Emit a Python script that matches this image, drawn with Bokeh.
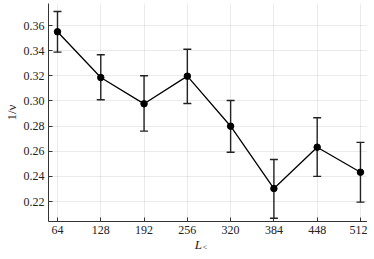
from bokeh.plotting import figure
from bokeh.models import ColumnDataSource, Whisker, Range1d, FixedTicker, CustomJSTickFormatter
from bokeh.layouts import column
from bokeh.core.properties import value
from bokeh.embed import file_html
from bokeh.resources import INLINE

L_vals = [64, 128, 192, 256, 320, 384, 448, 512]
inv_nu = [0.355, 0.3186, 0.2977, 0.3197, 0.2799, 0.2303, 0.2632, 0.2433]
err_lo = [0.3388, 0.3009, 0.2760, 0.2980, 0.2592, 0.2067, 0.2400, 0.2195]
err_hi = [0.3711, 0.3367, 0.3200, 0.3411, 0.3003, 0.2534, 0.2866, 0.2670]
x_ticks = [64, 128, 192, 256, 320, 384, 448, 512]
y_ticks = [0.22, 0.24, 0.26, 0.28, 0.30, 0.32, 0.34, 0.36]
x_label_main = "L"
x_label_sub = "<"
y_label = "1/ν"

src = ColumnDataSource(dict(x=L_vals, y=inv_nu, lo=err_lo, hi=err_hi))

FONT = "Liberation Serif"
TXT = "#222222"
FW = 319

p = figure(output_backend="svg", toolbar_location=None,
           frame_width=FW, frame_height=218,
           min_border_left=39, min_border_right=0, min_border_top=3, min_border_bottom=0,
           x_range=Range1d(50.7, 522.4), y_range=Range1d(0.2041, 0.3775))
p.outline_line_color = None
p.background_fill_color = "white"

for ax in (p.xaxis[0], p.yaxis[0]):
    ax.major_label_text_font = FONT
    ax.major_label_text_font_size = "12px"
    ax.major_label_text_color = TXT
    ax.axis_line_color = "#333333"
    ax.axis_line_width = 1
    ax.major_tick_line_color = "#333333"
    ax.major_tick_in = 4
    ax.major_tick_out = 0
    ax.minor_tick_line_color = None
    ax.axis_label_text_font = FONT
    ax.axis_label_text_font_size = "13px"
    ax.axis_label_text_color = TXT

p.xaxis.ticker = FixedTicker(ticks=x_ticks)
p.yaxis.ticker = FixedTicker(ticks=y_ticks)
p.yaxis.formatter = CustomJSTickFormatter(code="return tick.toFixed(2);")
p.xaxis.major_label_standoff = 4
p.yaxis.major_label_standoff = 4
p.xaxis.axis_label = None
p.yaxis.axis_label = y_label
p.yaxis.axis_label_standoff = 2
p.yaxis.axis_label_text_font_style = "normal"

p.xgrid.ticker = FixedTicker(ticks=x_ticks)
p.ygrid.ticker = FixedTicker(ticks=y_ticks)
p.grid.grid_line_color = "#000000"
p.grid.grid_line_alpha = 0.08
p.grid.grid_line_width = 1

w = Whisker(source=src, base="x", lower="lo", upper="hi",
            line_color="#222222", line_width=1.4)
for h in (w.upper_head, w.lower_head):
    h.size = 8
    h.line_color = "#222222"
    h.line_width = 1.4
p.add_layout(w)

p.line("x", "y", source=src, line_color="black", line_width=1.3)
p.scatter("x", "y", source=src, size=6.5, fill_color="black", line_color="black")

H2 = 16
p2 = figure(output_backend="svg", toolbar_location=None,
            width=FW, height=H2, min_border=0,
            x_range=Range1d(0, 280), y_range=Range1d(0, H2))
p2.axis.visible = False
p2.grid.visible = False
p2.outline_line_color = None
p2.text(x=[151], y=[H2 - 0.5], text=[x_label_main], text_font=value(FONT),
        text_font_size="13px", text_font_style="italic", text_color=TXT,
        text_baseline="top")
p2.text(x=[159.5], y=[H2 - 6], text=[x_label_sub], text_font=value(FONT),
        text_font_size="8px", text_color=TXT, text_baseline="top")

layout = column(p, p2, spacing=0)
open("out.html", "w").write(file_html(layout, INLINE))
